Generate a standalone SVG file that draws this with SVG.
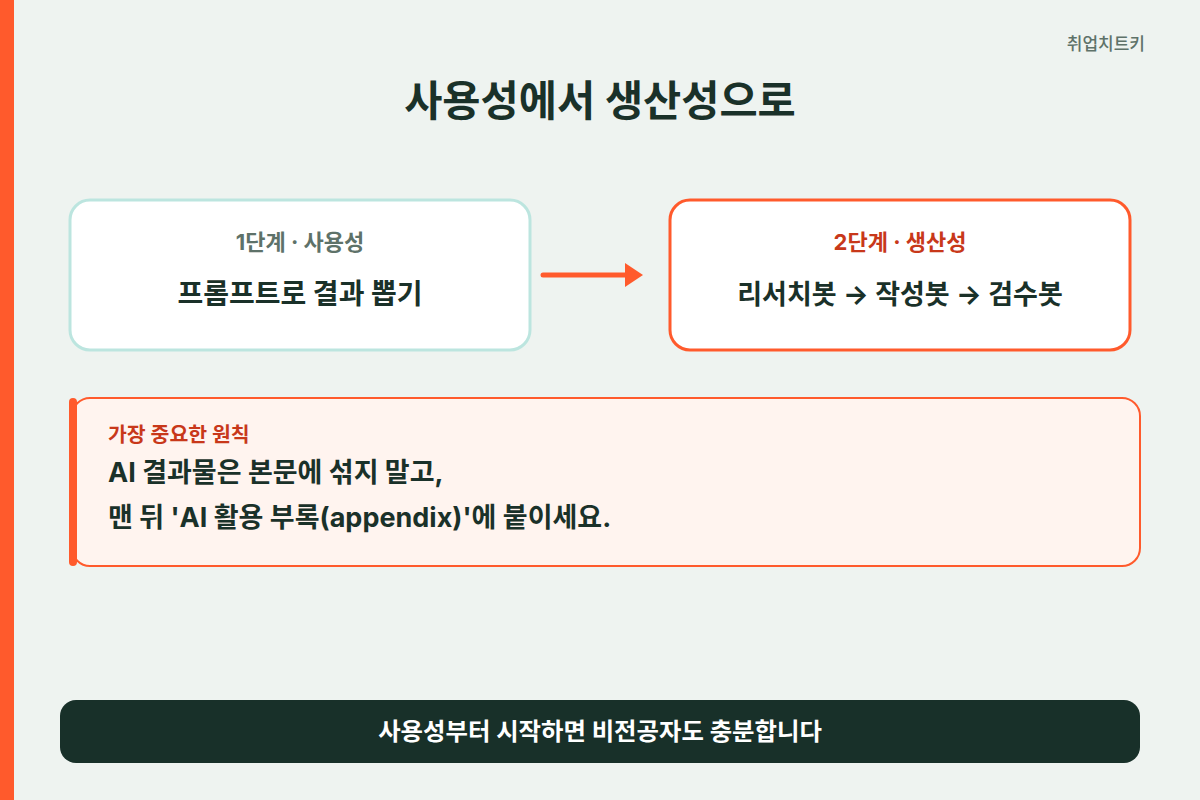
<svg xmlns="http://www.w3.org/2000/svg" width="1200" height="800" viewBox="0 0 1200 800">
<style>
text{font-family:"Inter","Noto Sans CJK KR","Noto Sans",sans-serif;}
.dark{fill:#1A3129;}
.b{font-weight:700;}
</style>
<defs>
<marker id="ah" markerWidth="18" markerHeight="24" refX="2" refY="12" orient="auto" markerUnits="userSpaceOnUse" viewBox="0 0 18 24"><path d="M0,0 L18,12 L0,24 Z" fill="#FF5A2C"/></marker>
</defs>
<rect width="1200" height="800" fill="#EEF3F0"/>
<rect x="0" y="0" width="14" height="800" fill="#FF5A2C"/>
<text x="1145" y="50" font-size="17" fill="#5E7269" text-anchor="end" font-weight="500">취업치트키</text>
<text x="600" y="116" font-size="41.5" class="dark b" text-anchor="middle">사용성에서 생산성으로</text>

<g id="step1">
<rect x="70" y="200" width="460" height="150" rx="20" fill="#FFFFFF" stroke="#BCE5DF" stroke-width="3"/>
<text x="300" y="250" font-size="22" fill="#5E7269" class="b" text-anchor="middle">1단계 · 사용성</text>
<text x="300" y="304" font-size="28" class="dark b" text-anchor="middle">프롬프트로 결과 뽑기</text>
</g>
<g id="step2">
<rect x="670" y="200" width="460" height="150" rx="20" fill="#FFFFFF" stroke="#FF5A2C" stroke-width="3"/>
<text x="900" y="250" font-size="22" fill="#C8381A" class="b" text-anchor="middle">2단계 · 생산성</text>
<text x="900" y="304" font-size="27" class="dark b" text-anchor="middle">리서치봇 → 작성봇 → 검수봇</text>
</g>
<g id="connectors">
<line x1="543" y1="275" x2="627" y2="275" stroke="#FF5A2C" stroke-width="5" stroke-linecap="round" marker-end="url(#ah)"/>
</g>

<g id="principle">
<rect x="72" y="398" width="1068" height="168" rx="18" fill="#FFF4EF" stroke="#FF5A2C" stroke-width="2"/>
<rect x="69" y="398" width="8" height="168" rx="4" fill="#FF5A2C"/>
<text x="108" y="442" font-size="20.5" fill="#C8381A" class="b">가장 중요한 원칙</text>
<text x="108" y="482" font-size="27" class="dark b">AI 결과물은 본문에 섞지 말고,</text>
<text x="108" y="527" font-size="27" class="dark b">맨 뒤 'AI 활용 부록(appendix)'에 붙이세요.</text>
</g>
<g id="footer">
<rect x="60" y="700" width="1080" height="63" rx="16" fill="#183029"/>
<text x="600" y="740" font-size="24.4" fill="#FFFFFF" class="b" text-anchor="middle">사용성부터 시작하면 비전공자도 충분합니다</text>
</g>
</svg>
